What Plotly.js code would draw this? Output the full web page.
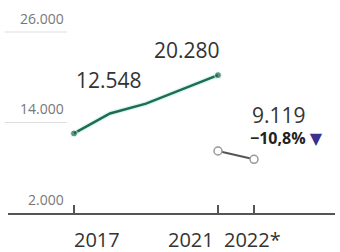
<!DOCTYPE html>
<html><head><meta charset="utf-8">
<script src="https://cdn.plot.ly/plotly-3.0.1.min.js"></script>
<style>html,body{margin:0;padding:0;background:#fff}#c{width:340px;height:252px}</style>
</head><body><div id="c"></div>
<script>
var years = [2017, 2018, 2019, 2020, 2021];
var values = [12548, 15200, 16500, 18350, 20280];
var cmpYears = [2021, 2022];
var cmpValues = [10220, 9119];
var yTicks = [2000, 14000, 26000];
var xTickVals = [2017, 2021, 2022];
var xTickText = ['2017', '2021', '2022*'];

function fmt(v){ return String(v).replace(/\B(?=(\d{3})+(?!\d))/g, '.'); }
var pct = (cmpValues[1]-cmpValues[0])/cmpValues[0]*100;
var pctText = '\u2212' + Math.abs(pct).toFixed(1).replace('.', ',') + '%';

var F = 'Open Sans, DejaVu Sans, sans-serif';
var endSizes = years.map(function(y, i){ return (i === 0 || i === years.length-1) ? 7 : 0; });
var traces = [
  {x: years, y: values, mode: 'lines', line: {color: 'rgba(120,235,200,0.28)', width: 5}, hoverinfo: 'skip'},
  {x: years, y: values, mode: 'lines+markers', line: {color: '#1f6b55', width: 2.5},
   marker: {color: '#1f6b55', size: endSizes}},
  {x: cmpYears, y: cmpValues, mode: 'lines+markers', line: {color: '#555', width: 2},
   marker: {color: '#fff', size: 8, line: {color: '#999', width: 1.5}}}
];

var ann = [];
yTicks.forEach(function(t){
  ann.push({xref: 'paper', x: 0.175, xanchor: 'right', yref: 'y', y: t, yanchor: 'middle', yshift: 14,
    borderpad: 0, text: fmt(t), showarrow: false, font: {family: F, size: 14, color: '#777'}});
});
xTickVals.forEach(function(v, i){
  ann.push({xref: 'x', x: v, xanchor: i === 0 ? 'left' : (i === 1 ? 'right' : 'center'),
    xshift: i === 0 ? -1 : (i === 1 ? -3 : -2),
    yref: 'paper', y: 0, yanchor: 'middle', yshift: -26, borderpad: 0,
    text: xTickText[i], showarrow: false, font: {family: F, size: 20, color: '#333'}});
});
function valAnn(x, py, anchor, shift, txt, size, bold){
  return {x: x, xanchor: anchor, xshift: shift, yref: 'paper', y: py, yanchor: 'middle', borderpad: 0,
    text: txt, showarrow: false, font: {family: F, size: size, color: bold ? '#222' : '#333'}};
}
ann.push(valAnn(years[0], 0.655, 'left', 1, fmt(values[0]), 21));
ann.push(valAnn(years[4], 0.805, 'right', 3, fmt(values[4]), 21));
ann.push(valAnn(cmpYears[1], 0.485, 'left', -3, fmt(cmpValues[1]), 21));
ann.push(valAnn(cmpYears[1], 0.369, 'left', -5,
  '<b>' + pctText + '</b> <span style="color:#3b2f8f">\u25BC</span>', 16, true));

var shapes = [];
yTicks.slice(1).forEach(function(t){
  shapes.push({type: 'line', xref: 'paper', x0: -0.01, x1: 0.18, yref: 'y', y0: t, y1: t,
    line: {color: '#ddd', width: 1}});
});

var layout = {
  width: 340, height: 252, margin: {l: 8, r: 5, t: 10, b: 39},
  paper_bgcolor: '#fff', plot_bgcolor: '#fff', showlegend: false,
  xaxis: {range: [2015.167, 2024.25], showgrid: false, zeroline: false, showline: true,
    linecolor: '#555', linewidth: 1.5, ticks: 'inside', ticklen: 8, tickwidth: 1.5, tickcolor: '#555',
    tickvals: xTickVals, showticklabels: false, fixedrange: true},
  yaxis: {range: [2000, 28918], showgrid: false, zeroline: false, showline: false,
    showticklabels: false, fixedrange: true},
  annotations: ann, shapes: shapes
};
Plotly.newPlot('c', traces, layout, {displayModeBar: false, staticPlot: true});
</script></body></html>
